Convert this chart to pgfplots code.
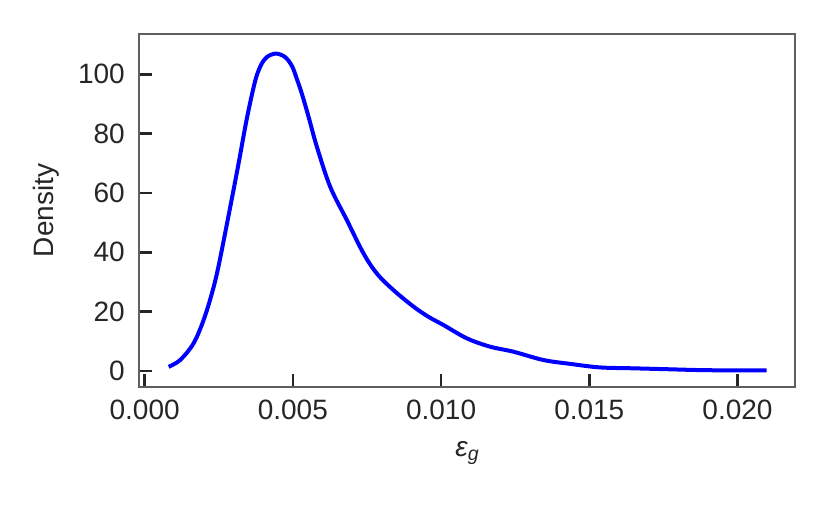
\documentclass[border=0pt]{standalone}
\usepackage{fontspec}
\setmainfont{Liberation Sans}
\usepackage{pgfplots}
\pgfplotsset{compat=1.18}
\definecolor{spine}{RGB}{95,95,95}
\definecolor{ink}{RGB}{38,38,38}

\begin{document}
\fontsize{28bp}{33bp}\selectfont
\begin{tikzpicture}
\begin{axis}[
  scale only axis,
  width=656bp, height=352.4bp,
  xmin=-0.00018, xmax=0.02195,
  ymin=-5.3, ymax=113.5,
  xtick={0,0.005,0.010,0.015,0.020},
  ytick={0,20,40,60,80,100},
  scaled x ticks=false,
  /pgf/number format/assume math mode=true,
  tick pos=left, tick align=inside,
  major tick length=13bp,
  tick style={ink, line width=2.6bp},
  axis line style={spine, line width=2bp},
  tick label style={font=\fontsize{28bp}{33bp}\selectfont, text=ink, inner sep=0pt},
  xticklabel style={yshift=-13.3bp, /pgf/number format/.cd, fixed, fixed zerofill, precision=3},
  yticklabel style={xshift=-14.3bp},
  label style={font=\fontsize{28bp}{33bp}\selectfont, text=ink, inner sep=0pt},
  ylabel={Density},
  xlabel={\textit{ε}\textsubscript{\textit{g}}},
  ylabel style={at={(axis description cs:-0.1209,0.5)}, anchor=south},
  xlabel style={at={(axis description cs:0.5,-0.156)}, anchor=north},
]
% density estimate
\addplot[blue, line width=4bp, smooth, tension=0.55] coordinates {
  (0.00081,1.4)(0.00120,3.7)(0.00165,9.3)(0.00199,17.2)
  (0.00227,26.2)(0.00249,35.2)(0.00289,55.4)(0.00317,70.0)
  (0.00345,85.2)(0.00373,97.8)(0.00392,103.0)(0.00412,105.8)
  (0.00443,107.0)(0.00474,105.8)(0.00497,102.8)(0.00513,98.6)
  (0.00530,93.6)(0.00553,85.7)(0.00581,75.6)(0.00626,62.1)
  (0.00682,50.9)(0.00738,39.7)(0.00783,32.9)(0.00839,27.3)
  (0.00907,21.7)(0.00957,18.3)(0.01008,15.5)(0.01087,11.0)
  (0.01165,8.2)(0.01244,6.5)(0.01345,3.7)(0.01435,2.4)
  (0.01536,1.2)(0.01648,0.9)(0.01761,0.6)(0.01873,0.3)
  (0.01986,0.2)(0.02098,0.2)
};
\end{axis}
\path (current axis.south west) ++(-139.3bp,-125.3bp)
  rectangle ([shift={(34.7bp,34.3bp)}]current axis.north east);
\end{tikzpicture}
\end{document}
